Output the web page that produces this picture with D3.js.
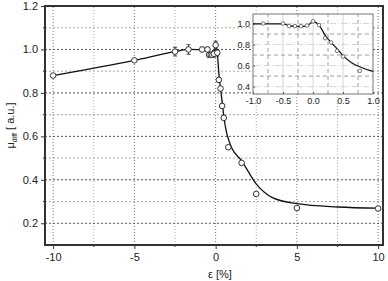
<!DOCTYPE html>
<html>
<head>
<meta charset="utf-8">
<script src="https://cdn.jsdelivr.net/npm/d3@7"></script>
<style>
  body { margin: 0; background: #fff; }
  text { font-family: "Liberation Sans", Arial, sans-serif; fill: #222; }
</style>
</head>
<body>
<div id="container"></div>
<script>
/** CONSTANTS AND GLOBALS */
const width = 388,
  height = 281,
  margin = { top: 6, bottom: 36, left: 45, right: 3 };

// measured points (strain %, normalised mu_diff, error)
const strain = [-10, -5, -2.5, -1.67, -0.83, -0.5, -0.4, -0.3, -0.2, -0.1, 0, 0.1, 0.2, 0.3, 0.4, 0.5, 0.78, 1.6, 2.5, 5, 10];
const muDiff = [0.88, 0.95, 0.99, 1.0, 1.0, 1.0, 0.975, 0.975, 0.975, 0.98, 1.02, 0.985, 0.86, 0.82, 0.74, 0.685, 0.55, 0.478, 0.335, 0.27, 0.268];
const muErr = [0.006, 0.006, 0.02, 0.022, 0.01, 0.01, 0.012, 0.012, 0.012, 0.015, 0.018, 0.015, 0.01, 0.01, 0.01, 0.01, 0.008, 0.006, 0.006, 0.008, 0.008];

// fitted curve
const fitX = [-10, -5, -2.5, -1.67, -0.5, -0.4, -0.3, -0.2, -0.1, 0, 0.1, 0.2, 0.3, 0.4, 0.5, 0.65, 0.82, 1.0, 1.58, 2.47, 3.5, 5, 7.5, 10];
const fitY = [0.88, 0.95, 0.99, 1.0, 0.997, 0.98, 0.972, 0.972, 0.978, 1.015, 0.985, 0.89, 0.82, 0.76, 0.695, 0.625, 0.58, 0.545, 0.49, 0.384, 0.318, 0.29, 0.275, 0.27];

// tick labels
const xTicks = [-10, -5, 0, 5, 10];
const yTicks = [0.2, 0.4, 0.6, 0.8, 1.0, 1.2];
const insetXTicks = [-1.0, -0.5, 0.0, 0.5, 1.0];
const insetYTicks = [0.4, 0.6, 0.8, 1.0];

const svg = d3.select("#container")
  .append("svg")
  .attr("width", width)
  .attr("height", height);

const x = d3.scaleLinear().domain([-10.5, 10.3]).range([margin.left, width - margin.right - 2]);
const y = d3.scaleLinear().domain([0.1, 1.2]).range([height - margin.bottom, margin.top]);

const points = strain.map((d, i) => ({ x: d, y: muDiff[i], e: muErr[i] }));
const fit = fitX.map((d, i) => ({ x: d, y: fitY[i] }));

// plain hyphen for negatives, like the original
const hy = f => d => f(d).replace("−", "-");

// grid
const xGrid = d3.range(-10, 10.01, 2.5);
const yGrid = d3.range(0.2, 1.201, 0.1);
svg.append("g")
  .selectAll("line")
  .data(xGrid)
  .join("line")
  .attr("x1", d => x(d)).attr("x2", d => x(d))
  .attr("y1", y(0.1)).attr("y2", y(1.2))
  .attr("stroke", d => d % 5 === 0 ? "#777" : "#aaa")
  .attr("stroke-width", 1)
  .attr("stroke-dasharray", "1,2");
svg.append("g")
  .selectAll("line")
  .data(yGrid)
  .join("line")
  .attr("x1", x.range()[0]).attr("x2", x.range()[1])
  .attr("y1", d => y(d)).attr("y2", d => y(d))
  .attr("stroke", (d, i) => i % 2 === 0 ? "#555" : "#aaa")
  .attr("stroke-width", 1)
  .attr("stroke-dasharray", "2,2");

// axes
const xAxis = svg.append("g")
  .attr("transform", `translate(0,${y(0.1)})`)
  .call(d3.axisBottom(x).tickValues(xTicks).tickSize(4).tickPadding(4).tickFormat(hy(d3.format("d"))));
const yAxis = svg.append("g")
  .attr("transform", `translate(${x.range()[0]},0)`)
  .call(d3.axisLeft(y).tickValues(yTicks).tickSize(4).tickPadding(3).tickFormat(d3.format(".1f")));
[xAxis, yAxis].forEach(a => {
  a.select(".domain").remove();
  a.selectAll("line").attr("stroke", "#333");
  a.selectAll("text").style("font-size", "11px").attr("fill", "#222");
});
// minor ticks
svg.append("g").selectAll("line")
  .data([-7.5, -2.5, 2.5, 7.5])
  .join("line")
  .attr("x1", d => x(d)).attr("x2", d => x(d))
  .attr("y1", y(0.1)).attr("y2", y(0.1) + 2)
  .attr("stroke", "#333");
svg.append("g").selectAll("line")
  .data([0.3, 0.5, 0.7, 0.9, 1.1])
  .join("line")
  .attr("x1", x.range()[0] - 2).attr("x2", x.range()[0])
  .attr("y1", d => y(d)).attr("y2", d => y(d))
  .attr("stroke", "#333");

// frame
svg.append("rect")
  .attr("x", x.range()[0]).attr("y", y(1.2))
  .attr("width", x.range()[1] - x.range()[0])
  .attr("height", y(0.1) - y(1.2))
  .attr("fill", "none")
  .attr("stroke", "#333")
  .attr("stroke-width", 2);

// fitted line
const line = d3.line().x(d => x(d.x)).y(d => y(d.y)).curve(d3.curveMonotoneX);
svg.append("path")
  .datum(fit)
  .attr("d", line)
  .attr("fill", "none")
  .attr("stroke", "#111")
  .attr("stroke-width", 1.3);

// error bars
const eb = svg.append("g").attr("stroke", "#333").attr("stroke-width", 0.9);
eb.selectAll("line.v").data(points).join("line").attr("class", "v")
  .attr("x1", d => x(d.x)).attr("x2", d => x(d.x))
  .attr("y1", d => y(d.y - d.e)).attr("y2", d => y(d.y + d.e));
eb.selectAll("line.t").data(points).join("line").attr("class", "t")
  .attr("x1", d => x(d.x) - 2).attr("x2", d => x(d.x) + 2)
  .attr("y1", d => y(d.y + d.e)).attr("y2", d => y(d.y + d.e));
eb.selectAll("line.b").data(points).join("line").attr("class", "b")
  .attr("x1", d => x(d.x) - 2).attr("x2", d => x(d.x) + 2)
  .attr("y1", d => y(d.y - d.e)).attr("y2", d => y(d.y - d.e));

svg.append("g").selectAll("circle")
  .data(points)
  .join("circle")
  .attr("cx", d => x(d.x))
  .attr("cy", d => y(d.y))
  .attr("r", 2.8)
  .attr("fill", "#fff")
  .attr("stroke", "#333")
  .attr("stroke-width", 1);

// axis titles
const yl = svg.append("text")
  .attr("transform", `translate(14,${(y(0.1) + y(1.2)) / 2}) rotate(-90)`)
  .attr("text-anchor", "middle")
  .style("font-size", "11px");
yl.append("tspan").text("μ");
yl.append("tspan").attr("dy", 3).style("font-size", "7px").text("diff");
yl.append("tspan").attr("dy", -3).text(" [ a.u.]");

svg.append("text")
  .attr("x", 220).attr("y", 278)
  .attr("text-anchor", "middle")
  .style("font-size", "11px")
  .text("ε [%]");

/** INSET */
const ix = d3.scaleLinear().domain([-1, 1]).range([253, 373]);
const iy = d3.scaleLinear().domain([0.33, 1.09]).range([94, 14]);

svg.append("rect")
  .attr("x", ix.range()[0]).attr("y", iy.range()[1])
  .attr("width", ix.range()[1] - ix.range()[0])
  .attr("height", iy.range()[0] - iy.range()[1])
  .attr("fill", "#fff");

const ig = svg.append("g");
ig.selectAll("line.gx")
  .data(d3.range(-0.75, 0.76, 0.25))
  .join("line").attr("class", "gx")
  .attr("x1", d => ix(d)).attr("x2", d => ix(d))
  .attr("y1", iy.range()[0]).attr("y2", iy.range()[1])
  .attr("stroke", (d, i) => i % 2 === 0 ? "#888" : "#ccc")
  .attr("stroke-dasharray", (d, i) => i % 2 === 0 ? "4,3" : null)
  .attr("stroke-width", 0.8);
ig.selectAll("line.gy")
  .data(d3.range(0.4, 1.01, 0.1))
  .join("line").attr("class", "gy")
  .attr("x1", ix.range()[0]).attr("x2", ix.range()[1])
  .attr("y1", d => iy(d)).attr("y2", d => iy(d))
  .attr("stroke", (d, i) => i % 2 === 1 ? "#888" : "#ccc")
  .attr("stroke-dasharray", (d, i) => i % 2 === 1 ? "4,3" : "6,2,1,2")
  .attr("stroke-width", 0.8);

const ixAxis = ig.append("g")
  .attr("transform", `translate(0,${iy.range()[0]})`)
  .call(d3.axisBottom(ix).tickValues(insetXTicks).tickSize(-2).tickPadding(4).tickFormat(hy(d3.format(".1f"))));
const iyAxis = ig.append("g")
  .attr("transform", `translate(${ix.range()[0]},0)`)
  .call(d3.axisLeft(iy).tickValues(insetYTicks).tickSize(-2).tickPadding(3).tickFormat(d3.format(".1f")));
[ixAxis, iyAxis].forEach(a => {
  a.select(".domain").remove();
  a.selectAll("line").attr("stroke", "#555");
  a.selectAll("text").style("font-size", "9px").attr("fill", "#222");
});

ig.append("rect")
  .attr("x", ix.range()[0]).attr("y", iy.range()[1])
  .attr("width", ix.range()[1] - ix.range()[0])
  .attr("height", iy.range()[0] - iy.range()[1])
  .attr("fill", "none")
  .attr("stroke", "#777")
  .attr("stroke-width", 1);

const iline = d3.line().x(d => ix(d.x)).y(d => iy(d.y)).curve(d3.curveMonotoneX);
ig.append("path")
  .datum(fit.filter(d => d.x >= -1 && d.x <= 1.0001))
  .attr("d", d => iline([{ x: -1, y: 0.997 }].concat(d)))
  .attr("fill", "none")
  .attr("stroke", "#111")
  .attr("stroke-width", 1.2);

ig.append("g").selectAll("circle")
  .data(points.filter(d => d.x >= -1 && d.x <= 1))
  .join("circle")
  .attr("cx", d => ix(d.x))
  .attr("cy", d => iy(d.y))
  .attr("r", 1.8)
  .attr("fill", "#fff")
  .attr("stroke", "#555")
  .attr("stroke-width", 0.8);
</script>
</body>
</html>
